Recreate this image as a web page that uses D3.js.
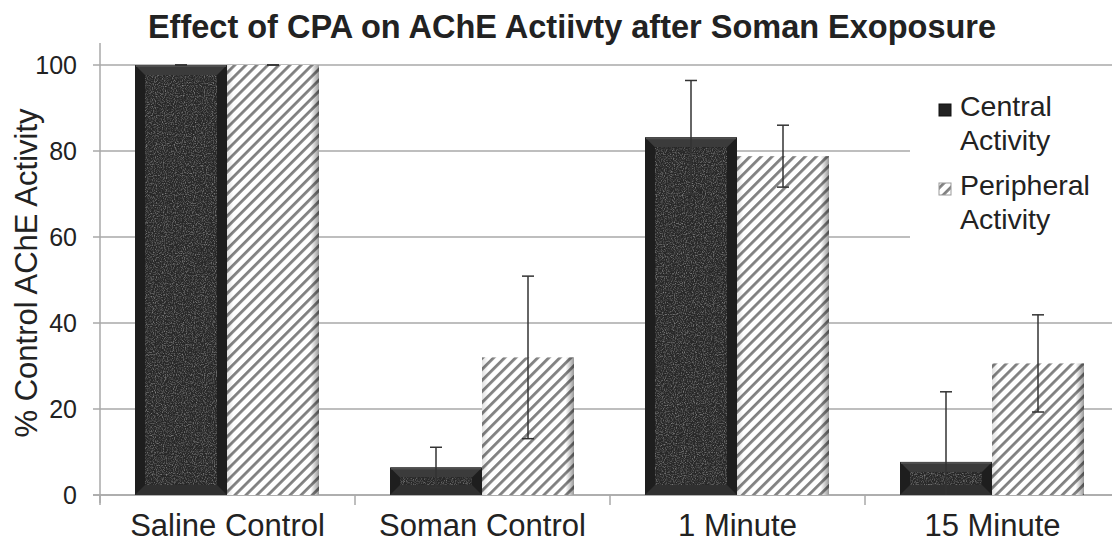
<!DOCTYPE html>
<html>
<head>
<meta charset="utf-8">
<script src="https://cdn.jsdelivr.net/npm/d3@7"></script>
<style>
  body { margin: 0; background: #fff; }
  svg text { font-family: "Liberation Sans", Arial, sans-serif; fill: #222; }
</style>
</head>
<body>
<svg id="chart" width="1112" height="548"></svg>
<script>
// values
var categories = ["Saline Control", "Soman Control", "1 Minute", "15 Minute"];
var seriesNames = ["Central", "Peripheral"];
var centralValues = [100, 6.4, 83.2, 7.7];
var centralErrors = [0, 4.7, 13.2, 16.3];
var peripheralValues = [100, 32.0, 78.8, 30.6];
var peripheralErrors = [0, 18.9, 7.2, 11.3];
var yTicks = [0, 20, 40, 60, 80, 100];

var svg = d3.select("#chart");
var defs = svg.append("defs");

var x = d3.scaleBand().domain(categories).range([100, 1120]);
var xSeries = d3.scaleBand().domain(seriesNames).range([35, 219]);
var y = d3.scaleLinear().domain([0, 100]).range([495, 65]);

// stripes for peripheral bars
var stripe = defs.append("pattern")
    .attr("id", "stripes")
    .attr("patternUnits", "userSpaceOnUse")
    .attr("width", 7.8)
    .attr("height", 7.8)
    .attr("patternTransform", "rotate(45)");
stripe.append("rect").attr("width", 7.8).attr("height", 7.8).attr("fill", "#fff");
stripe.append("rect").attr("width", 2.8).attr("height", 7.8).attr("fill", "#808080");

var edge = defs.append("linearGradient").attr("id", "edgeShade");
edge.append("stop").attr("offset", "0%").attr("stop-color", "#000").attr("stop-opacity", 0.12);
edge.append("stop").attr("offset", "7%").attr("stop-color", "#000").attr("stop-opacity", 0);
edge.append("stop").attr("offset", "91%").attr("stop-color", "#000").attr("stop-opacity", 0);
edge.append("stop").attr("offset", "100%").attr("stop-color", "#000").attr("stop-opacity", 0.4);

// grain for central bars
var grain = defs.append("filter").attr("id", "grain")
    .attr("x", 0).attr("y", 0).attr("width", 1).attr("height", 1);
grain.append("feTurbulence").attr("type", "fractalNoise")
    .attr("baseFrequency", 0.9).attr("numOctaves", 2).attr("seed", 3).attr("result", "noise");
grain.append("feColorMatrix").attr("in", "noise").attr("type", "matrix")
    .attr("values", "0 0 0 0 0.32  0 0 0 0 0.32  0 0 0 0 0.32  1.8 0 0 0 -0.8")
    .attr("result", "spots");
grain.append("feComposite").attr("in", "spots").attr("in2", "SourceGraphic").attr("operator", "in");

// gridlines + y ticks
svg.append("g").selectAll("line")
    .data(yTicks)
    .enter()
    .append("line")
    .attr("x1", 93)
    .attr("x2", 1112)
    .attr("y1", function(d) { return y(d); })
    .attr("y2", function(d) { return y(d); })
    .attr("stroke", "#a8a8a8")
    .attr("stroke-width", 1.5);

// legend box hides the gridlines behind it
svg.append("rect")
    .attr("x", 910).attr("y", 82)
    .attr("width", 202).attr("height", 165)
    .attr("fill", "#fff");

// y axis
var yAxis = svg.append("g")
    .attr("transform", "translate(100,0)")
    .call(d3.axisLeft(y).tickValues(yTicks).tickSize(0).tickPadding(23));
yAxis.select(".domain").remove();
yAxis.selectAll("text")
    .style("font-size", "25px")
    .attr("fill", "#222");

svg.append("line")
    .attr("x1", 100).attr("x2", 100)
    .attr("y1", 43).attr("y2", 503)
    .attr("stroke", "#a8a8a8").attr("stroke-width", 1.5);

// x axis
var xAxis = svg.append("g")
    .attr("transform", "translate(0,495)")
    .call(d3.axisBottom(x).tickSize(0).tickPadding(19));
xAxis.select(".domain").remove();
xAxis.selectAll("text")
    .style("font-size", "31px")
    .attr("fill", "#222");

svg.append("line")
    .attr("x1", 93).attr("x2", 1112)
    .attr("y1", 495).attr("y2", 495)
    .attr("stroke", "#a8a8a8").attr("stroke-width", 1.5);

svg.append("g").selectAll("line")
    .data(categories)
    .enter()
    .append("line")
    .attr("x1", function(d) { return x(d); })
    .attr("x2", function(d) { return x(d); })
    .attr("y1", 495).attr("y2", 505)
    .attr("stroke", "#a8a8a8").attr("stroke-width", 1.5);

// bars
var barData = categories.map(function(c, i) {
    return [
        { cat: c, series: "Central", value: centralValues[i], err: centralErrors[i] },
        { cat: c, series: "Peripheral", value: peripheralValues[i], err: peripheralErrors[i] }
    ];
});
var flat = [].concat.apply([], barData);

var bw = xSeries.bandwidth();

var centralBars = svg.append("g").selectAll("g")
    .data(flat.filter(function(d) { return d.series == "Central"; }))
    .enter()
    .append("g");

centralBars.each(function(d) {
    var g = d3.select(this);
    var x0 = x(d.cat) + xSeries(d.series);
    var y0 = y(d.value);
    var h = y(0) - y0;
    var b = Math.min(10, h / 2);
    g.append("rect").attr("x", x0).attr("y", y0).attr("width", bw).attr("height", h).attr("fill", "#1e1e1e");
    g.append("polygon")
        .attr("points", [[x0, y0], [x0 + bw, y0], [x0 + bw - b, y0 + b], [x0 + b, y0 + b]].join(" "))
        .attr("fill", "#3b3b3b");
    g.append("line")
        .attr("x1", x0 + 1).attr("x2", x0 + bw - 1)
        .attr("y1", y0 + 1).attr("y2", y0 + 1)
        .attr("stroke", "#4e4e4e").attr("stroke-width", 2);
    g.append("polygon")
        .attr("points", [[x0, y0 + h], [x0 + bw, y0 + h], [x0 + bw - b, y0 + h - b], [x0 + b, y0 + h - b]].join(" "))
        .attr("fill", "#303030");
    if (h - 2 * b > 0) {
        g.append("rect")
            .attr("x", x0 + b).attr("y", y0 + b)
            .attr("width", bw - 2 * b).attr("height", h - 2 * b)
            .attr("fill", "#282828");
        g.append("rect")
            .attr("x", x0 + b).attr("y", y0 + b)
            .attr("width", bw - 2 * b).attr("height", h - 2 * b)
            .attr("fill", "#000")
            .attr("filter", "url(#grain)");
    }
});

var periphBars = svg.append("g").selectAll("g")
    .data(flat.filter(function(d) { return d.series == "Peripheral"; }))
    .enter()
    .append("g");

periphBars.append("rect")
    .attr("x", function(d) { return x(d.cat) + xSeries(d.series); })
    .attr("y", function(d) { return y(d.value); })
    .attr("width", bw)
    .attr("height", function(d) { return y(0) - y(d.value); })
    .attr("fill", "url(#stripes)");
periphBars.append("rect")
    .attr("x", function(d) { return x(d.cat) + xSeries(d.series); })
    .attr("y", function(d) { return y(d.value); })
    .attr("width", bw)
    .attr("height", function(d) { return y(0) - y(d.value); })
    .attr("fill", "url(#edgeShade)");

// error bars
var errG = svg.append("g").selectAll("g")
    .data(flat)
    .enter()
    .append("g")
    .attr("stroke", "#333")
    .attr("stroke-width", 1.5);

var cx = function(d) { return x(d.cat) + xSeries(d.series) + bw / 2; };
errG.append("line")
    .attr("x1", cx).attr("x2", cx)
    .attr("y1", function(d) { return y(d.value + d.err); })
    .attr("y2", function(d) { return y(Math.max(0, d.value - d.err)); });
errG.append("line")
    .attr("x1", function(d) { return cx(d) - 6; })
    .attr("x2", function(d) { return cx(d) + 6; })
    .attr("y1", function(d) { return y(d.value + d.err); })
    .attr("y2", function(d) { return y(d.value + d.err); });
errG.filter(function(d) { return d.value - d.err > 0; })
    .append("line")
    .attr("x1", function(d) { return cx(d) - 6; })
    .attr("x2", function(d) { return cx(d) + 6; })
    .attr("y1", function(d) { return y(d.value - d.err); })
    .attr("y2", function(d) { return y(d.value - d.err); });

// title
svg.append("text")
    .attr("x", 572)
    .attr("y", 38)
    .attr("text-anchor", "middle")
    .style("font-size", "32.5px")
    .style("font-weight", "bold")
    .text("Effect of CPA on AChE Actiivty after Soman Exoposure");

// y title
svg.append("text")
    .attr("transform", "translate(37,273) rotate(-90)")
    .attr("text-anchor", "middle")
    .style("font-size", "31px")
    .text("% Control AChE Activity");

// legend
var legendItems = [
    { name: "Central", lines: ["Central", "Activity"], y: 116 },
    { name: "Peripheral", lines: ["Peripheral", "Activity"], y: 195 }
];
var leg = svg.append("g").selectAll("g")
    .data(legendItems)
    .enter()
    .append("g");

leg.append("rect")
    .attr("x", 939)
    .attr("y", function(d) { return d.y - 12; })
    .attr("width", 12)
    .attr("height", 12)
    .attr("fill", function(d) { return d.name == "Central" ? "#222" : "url(#stripes)"; })
    .attr("stroke", function(d) { return d.name == "Central" ? "#111" : "#999"; })
    .attr("stroke-width", 1);

leg.each(function(d) {
    var t = d3.select(this).append("text")
        .attr("x", 960)
        .attr("y", d.y)
        .style("font-size", "28.5px");
    d.lines.forEach(function(l, i) {
        t.append("tspan").attr("x", 960).attr("dy", i == 0 ? 0 : 34).text(l);
    });
});
</script>
</body>
</html>
